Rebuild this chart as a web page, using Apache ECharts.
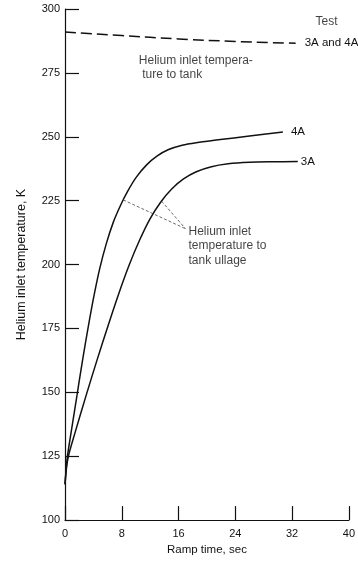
<!DOCTYPE html>
<html>
<head>
<meta charset="utf-8">
<script src="https://cdn.jsdelivr.net/npm/echarts@6/dist/echarts.min.js"></script>
<style>
  html, body { margin: 0; padding: 0; background: #fff; }
  #chart { width: 358px; height: 561px; }
</style>
</head>
<body>
<div id="chart"></div>
<script>
// Ramp time (sec) vs helium inlet temperature (K)
const xTicks = [0, 8, 16, 24, 32, 40];
const yTicks = [100, 125, 150, 175, 200, 225, 250, 275, 300];

// Helium inlet temperature to tank, tests 3A and 4A (dashed)
const tankInlet = [[0, 291], [8, 289.6], [16, 288.3], [24, 287.3], [32.5, 286.6]];

// Helium inlet temperature to tank ullage, test 4A
const test4A = [[0, 114], [0.3, 124], [0.9, 135], [1.7, 149], [2.5, 163], [3.3, 176],
  [4.1, 188], [4.9, 198.5], [5.8, 208], [6.8, 216.5], [7.8, 223], [8.8, 228.5],
  [10, 234], [11.5, 239], [13, 242.5], [14.6, 245], [16.5, 246.7], [18.5, 247.7],
  [21.6, 248.8], [26, 250.3], [30.7, 251.9]];

// Helium inlet temperature to tank ullage, test 3A
const test3A = [[0, 114], [0.4, 124], [1.5, 135], [3.0, 149], [4.5, 162.5], [6, 175.5],
  [7.5, 188], [9, 199.5], [10.5, 209.5], [12, 218], [13.5, 224.5], [15, 229.5],
  [16.7, 233.5], [18.5, 236.3], [20.5, 238.2], [23, 239.4], [26, 240], [29, 240.2],
  [32.8, 240.3]];

// Leader lines from each ullage curve to its note
const leaderEnd = [17, 214];
const leaderStarts = [[8.2, 225.3], [13.6, 224.8]];

const FONT = "'Liberation Sans', Arial, sans-serif";
const INK = '#111';

const chart = echarts.init(document.getElementById('chart'), null, { renderer: 'canvas' });

function note(coord, text, align) {
  return {
    type: 'scatter',
    data: [coord],
    symbolSize: 0,
    silent: true,
    z: 5,
    label: {
      show: true,
      position: 'inside',
      align: align || 'left',
      verticalAlign: 'middle',
      formatter: text,
      color: INK,
      fontFamily: FONT,
      fontSize: 12,
      lineHeight: 14.5
    }
  };
}

const curveStyle = { color: INK, width: 1.5 };

chart.setOption({
  animation: false,
  backgroundColor: '#fff',
  grid: { left: 65, top: 9, width: 287, height: 516, containLabel: false },
  xAxis: {
    type: 'value', min: xTicks[0], max: xTicks[xTicks.length - 1], interval: 8,
    name: 'Ramp time, sec', nameLocation: 'middle', nameGap: 21,
    nameTextStyle: { color: INK, fontFamily: FONT, fontSize: 11.5 },
    axisLine: { lineStyle: { color: INK, width: 1.2 } },
    axisTick: { inside: true, length: 14, lineStyle: { color: INK, width: 1.2 } },
    axisLabel: { color: INK, fontFamily: FONT, fontSize: 11, margin: 8,
      formatter: v => xTicks.includes(v) ? String(v) : '' },
    splitLine: { show: false }
  },
  yAxis: {
    type: 'value', min: yTicks[0], max: yTicks[yTicks.length - 1], interval: 25,
    name: 'Helium inlet temperature, K', nameLocation: 'middle', nameGap: 37,
    nameTextStyle: { color: INK, fontFamily: FONT, fontSize: 12.5 },
    axisLine: { lineStyle: { color: INK, width: 1.2 } },
    axisTick: { inside: true, length: 14, lineStyle: { color: INK, width: 1.2 } },
    axisLabel: { color: INK, fontFamily: FONT, fontSize: 11, margin: 5,
      formatter: v => yTicks.includes(v) ? String(v) : '' },
    splitLine: { show: false }
  },
  series: [
    {
      type: 'line', data: tankInlet, smooth: true, showSymbol: false, symbol: 'none',
      lineStyle: { color: INK, width: 1.5, type: [11, 5] },
      endLabel: { show: true, formatter: '3A and 4A', distance: 9, color: INK,
        fontFamily: FONT, fontSize: 11.5 }
    },
    {
      type: 'line', data: test4A, smooth: 0.3, showSymbol: false, symbol: 'none',
      lineStyle: curveStyle,
      endLabel: { show: true, formatter: '4A', distance: 8, color: INK,
        fontFamily: FONT, fontSize: 11.5 }
    },
    {
      type: 'line', data: test3A, smooth: 0.3, showSymbol: false, symbol: 'none',
      lineStyle: curveStyle,
      endLabel: { show: true, formatter: '3A', distance: 3, color: INK,
        fontFamily: FONT, fontSize: 11.5 },
      markLine: {
        silent: true, symbol: 'none', label: { show: false },
        lineStyle: { color: '#444', width: 0.8, type: [3, 2] },
        data: leaderStarts.map(s => [{ coord: s }, { coord: leaderEnd }])
      }
    },
    note([10.4, 277.1], 'Helium inlet tempera-\n ture to tank'),
    note([36.85, 295.2], 'Test', 'center'),
    note([17.4, 207.2], 'Helium inlet\ntemperature to\ntank ullage')
  ]
});
</script>
</body>
</html>
